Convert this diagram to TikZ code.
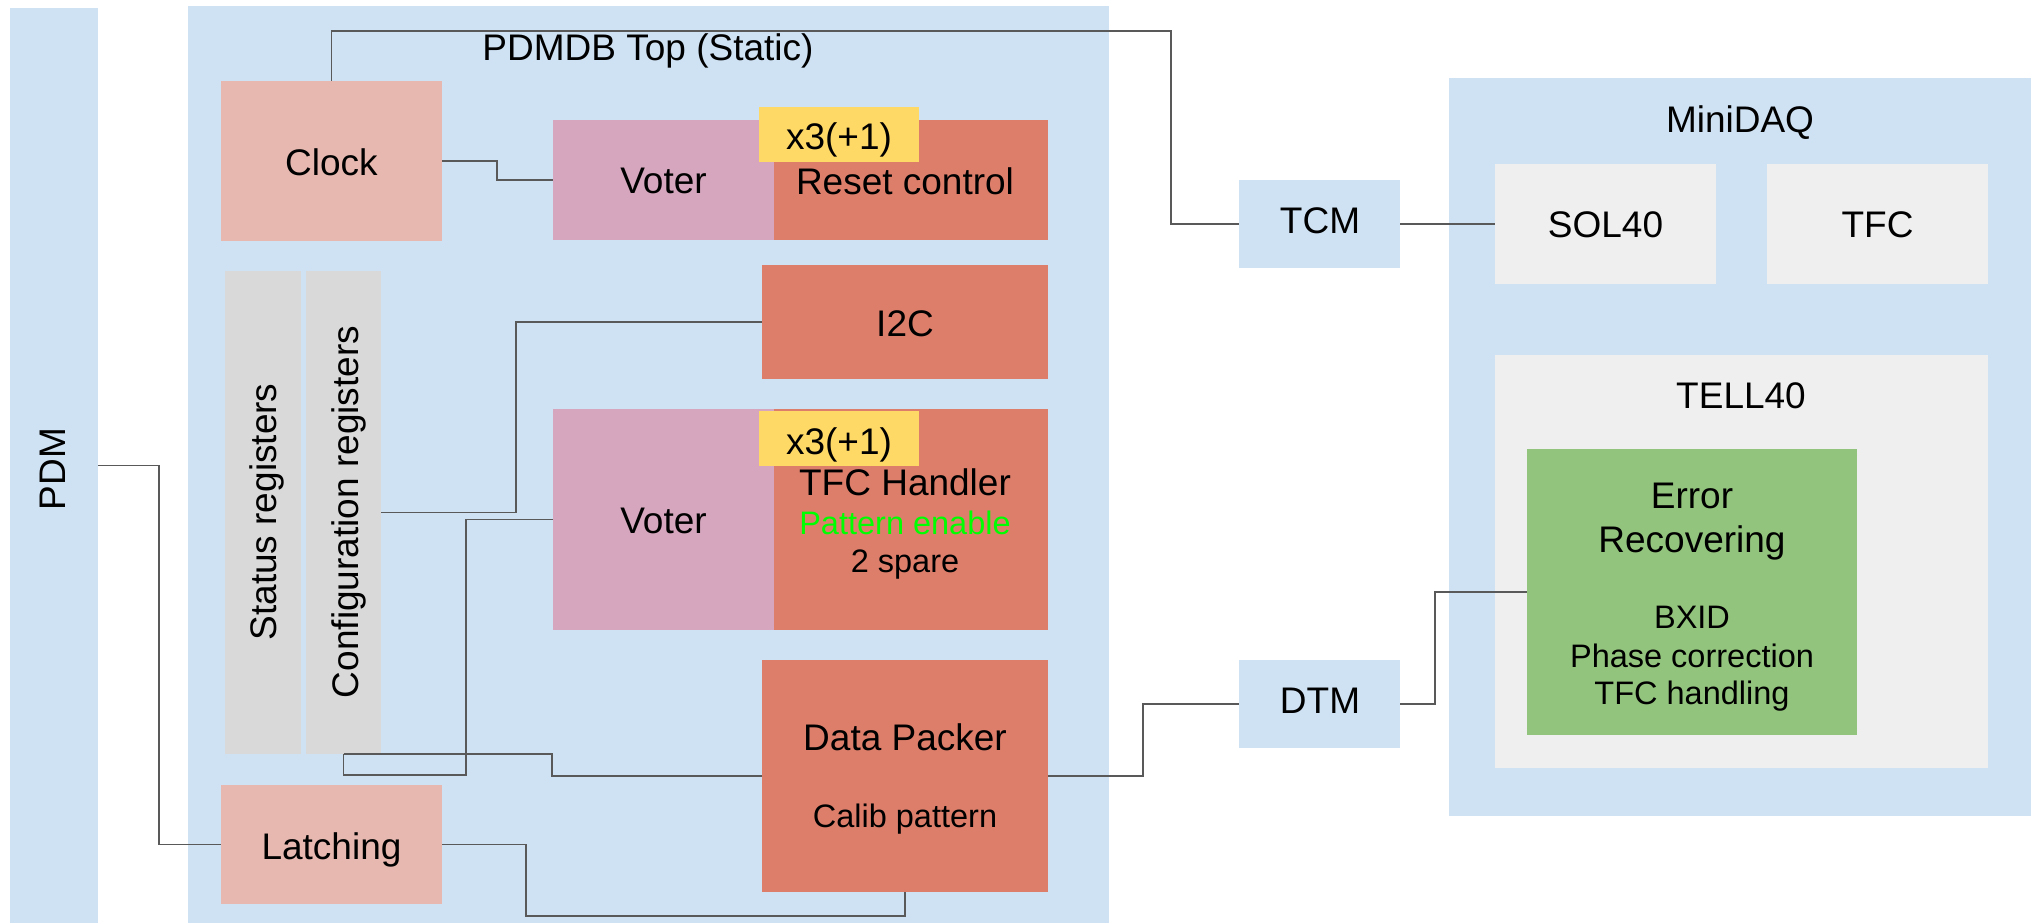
\documentclass[tikz,border=0pt]{standalone}
\usepackage{fontspec}
\setmainfont{Liberation Sans}
\definecolor{paneblue}{HTML}{CFE2F3}
\definecolor{softred}{HTML}{E6B8AF}
\definecolor{voterpink}{HTML}{D5A6BD}
\definecolor{blockred}{HTML}{DD7E6B}
\definecolor{tagyellow}{HTML}{FFD966}
\definecolor{reggray}{HTML}{D9D9D9}
\definecolor{daqgray}{HTML}{EFEFEF}
\definecolor{recgreen}{HTML}{93C47D}
\definecolor{wiregray}{HTML}{595959}
\newcommand\mylarge{\fontsize{37}{44}\selectfont}
\newcommand\mysmall{\fontsize{32.5}{39}\selectfont}
\begin{document}
\begin{tikzpicture}[x=1pt,y=-1pt,
  blk/.style={draw=none, inner sep=0pt, outer sep=0pt},
  txt/.style={inner sep=0pt, outer sep=0pt, font=\mylarge, text height=26.5pt, text depth=0pt},
  stxt/.style={inner sep=0pt, outer sep=0pt, font=\mysmall, text height=23.3pt, text depth=0pt},
  wire/.style={draw=wiregray, line width=1.8pt}]
\useasboundingbox (0,0) rectangle (2032,923);

% background panels
\node[blk, fill=paneblue, minimum width=88, minimum height=915] (pdm) at (54,465.5) {};
\node[txt, rotate=90] (pdmlabel) at (52,469) {PDM};
\node[blk, fill=paneblue, minimum width=921, minimum height=917] (top) at (648.5,464.5) {};
\node[txt] (toplabel) at (648,47) {PDMDB Top (Static)};
\node[blk, fill=paneblue, minimum width=582, minimum height=738] (daq) at (1740,447) {};
\node[txt] (daqlabel) at (1740,119) {MiniDAQ};

% PDMDB blocks
\node[blk, fill=softred, minimum width=221, minimum height=160] (clock) at (331.5,161) {};
\node[txt] at (331.5,162) {Clock};
\node[blk, fill=blockred, minimum width=286, minimum height=120] (reset) at (905,180) {};
\node[txt] (resetlabel) at (905,181) {Reset control};
\node[blk, fill=voterpink, minimum width=221, minimum height=120] (voterA) at (663.5,180) {};
\node[txt] at (663.5,180.5) {Voter};
\node[blk, fill=tagyellow, minimum width=160, minimum height=55] (tagA) at (839,134.5) {};
\node[txt] (tagAlabel) at (839,136) {x3(+1)};

\node[blk, fill=blockred, minimum width=286, minimum height=114] (i2c) at (905,322) {};
\node[txt] at (905,323) {I2C};

\node[blk, fill=blockred, minimum width=286, minimum height=221] (tfch) at (905,519.5) {};
\node[blk, fill=voterpink, minimum width=221, minimum height=221] (voterB) at (663.5,519.5) {};
\node[txt] at (663.5,520) {Voter};
\node[blk, fill=tagyellow, minimum width=160, minimum height=55] (tagB) at (839,438.5) {};
\node[txt] (tagBlabel) at (839,441) {x3(+1)};
\node[txt] (tfchlabel) at (905,482) {TFC Handler};
\node[stxt, text=green] (tfchpattern) at (905,523) {Pattern enable};
\node[stxt] (tfchspare) at (905,561) {2 spare};

\node[blk, fill=reggray, minimum width=76, minimum height=483] (status) at (263,512.5) {};
\node[txt, rotate=90] (statuslabel) at (263,512) {Status registers};
\node[blk, fill=reggray, minimum width=75, minimum height=483] (config) at (343.5,512.5) {};
\node[txt, rotate=90] (configlabel) at (345,512) {Configuration registers};

\node[blk, fill=blockred, minimum width=286, minimum height=232] (packer) at (905,776) {};
\node[txt] (packerlabel) at (905,737) {Data Packer};
\node[stxt] (packercalib) at (905,816) {Calib pattern};

\node[blk, fill=softred, minimum width=221, minimum height=119] (latch) at (331.5,844.5) {};
\node[txt] at (331.5,846) {Latching};

% link modules
\node[blk, fill=paneblue, minimum width=161, minimum height=88] (tcm) at (1319.5,224) {};
\node[txt] at (1320,220) {TCM};
\node[blk, fill=paneblue, minimum width=161, minimum height=88] (dtm) at (1319.5,704) {};
\node[txt] at (1320,700) {DTM};

% MiniDAQ blocks
\node[blk, fill=daqgray, minimum width=221, minimum height=120] (sol) at (1605.5,224) {};
\node[txt] at (1605.5,224.5) {SOL40};
\node[blk, fill=daqgray, minimum width=221, minimum height=120] (tfc) at (1877.5,224) {};
\node[txt] at (1877.5,224.5) {TFC};
\node[blk, fill=daqgray, minimum width=493, minimum height=413] (tell) at (1741.5,561.5) {};
\node[txt] (telllabel) at (1741,395) {TELL40};
\node[blk, fill=recgreen, minimum width=330, minimum height=286] (rec) at (1692,592) {};
\node[txt] (recA) at (1692,495) {Error};
\node[txt] (recB) at (1692,539) {Recovering};
\node[stxt] (recC) at (1692,617) {BXID};
\node[stxt] (recD) at (1692,656) {Phase correction};
\node[stxt] (recE) at (1692,693) {TFC handling};

% connections
\draw[wire] (clock.north) |- (1171,31) |- (tcm.west);
\draw[wire] (clock.east) -- (497,161) |- (voterA.west);
\draw[wire] (tcm.east) -- (sol.west);
\draw[wire] (i2c.west) -- (516,322) |- (config.east);
\draw[wire] (voterB.west) -| (466,775) -| (config.south);
\draw[wire] (config.south) -- (552,754) |- (packer.west);
\draw[wire] (pdm.east) -- (159,465.5) |- (latch.west);
\draw[wire] (latch.east) -| (526,916) -| (packer.south);
\draw[wire] (packer.east) -- (1143,776) |- (dtm.west);
\draw[wire] (dtm.east) -- (1435,704) |- (rec.west);
\end{tikzpicture}
\end{document}
